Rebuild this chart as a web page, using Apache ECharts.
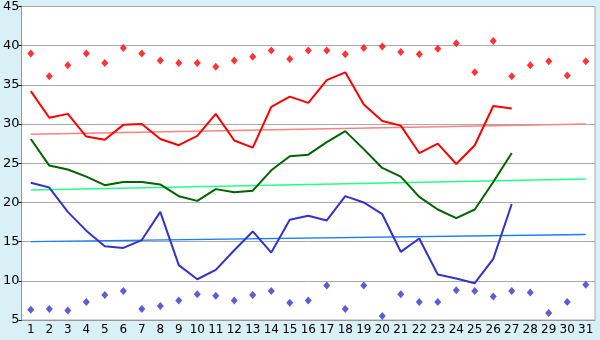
<!DOCTYPE html>
<html>
<head>
<meta charset="utf-8">
<script src="https://cdn.jsdelivr.net/npm/echarts@6/dist/echarts.min.js"></script>
<style>
  html, body { margin: 0; padding: 0; background: #d9f0f7; }
  #chart { width: 600px; height: 340px; }
</style>
</head>
<body>
<div id="chart"></div>
<script>
// days of the month
var days = []
for (var d = 1; d <= 31; d++) days.push(String(d))

// daily max (red diamonds)
var maxPoints = [39, 36.1, 37.5, 39, 37.8, 39.7, 39, 38.1, 37.8, 37.8,
  37.3, 38.1, 38.6, 39.4, 38.3, 39.4, 39.4, 38.9, 39.7, 39.9,
  39.2, 38.9, 39.6, 40.3, 36.6, 40.6, 36.1, 37.5, 38.0, 36.2, 38.0]
// daily min (blue diamonds)
var minPoints = [6.3, 6.4, 6.2, 7.3, 8.2, 8.7, 6.4, 6.8, 7.5, 8.3,
  8.1, 7.5, 8.2, 8.7, 7.2, 7.5, 9.4, 6.4, 9.4, 5.5,
  8.3, 7.3, 7.3, 8.8, 8.7, 8.0, 8.7, 8.5, 5.9, 7.3, 9.5]

var redLine = [34.2, 30.8, 31.3, 28.4, 28.0, 29.9, 30.0, 28.1, 27.3, 28.5,
  31.3, 27.9, 27.0, 32.2, 33.5, 32.7, 35.6, 36.6, 32.5, 30.4,
  29.8, 26.3, 27.5, 24.9, 27.3, 32.3, 32.0]
var greenLine = [28.1, 24.7, 24.2, 23.3, 22.2, 22.6, 22.6, 22.3, 20.8, 20.2,
  21.7, 21.3, 21.5, 24.1, 25.9, 26.1, 27.7, 29.1, 26.8, 24.4,
  23.3, 20.7, 19.1, 18.0, 19.1, 22.6, 26.3]
var blueLine = [22.5, 21.9, 18.8, 16.4, 14.4, 14.2, 15.2, 18.8, 12.0, 10.2,
  11.4, 13.9, 16.3, 13.6, 17.8, 18.3, 17.7, 20.8, 20.0, 18.5,
  13.7, 15.4, 10.8, 10.3, 9.7, 12.8, 19.8]

// trend lines, start and end values
var redTrend = [['1', 28.7], ['31', 30.0]]
var greenTrend = [['1', 21.6], ['31', 23.0]]
var blueTrend = [['1', 15.0], ['31', 15.9]]

var yTicks = { min: 5, max: 45, step: 5 }

var chart = echarts.init(document.getElementById('chart'))

function trend(data, color) {
  return {
    type: 'line', data: data, symbol: 'none', silent: true,
    lineStyle: { color: color, width: 1.5 }, z: 1
  }
}
function mainLine(data, color) {
  return {
    type: 'line', data: data, symbol: 'none',
    lineStyle: { color: color, width: 2 }, z: 3
  }
}
function dots(data, color) {
  return {
    type: 'scatter', data: data, symbol: 'diamond', symbolSize: [7, 8],
    itemStyle: { color: color }, z: 4
  }
}

chart.setOption({
  backgroundColor: '#d9f0f7',
  animation: false,
  textStyle: { fontFamily: 'DejaVu Sans' },
  grid: {
    left: 20, right: 5, top: 5, bottom: 20,
    show: true, backgroundColor: '#ffffff', borderColor: '#aaaaaa', borderWidth: 1
  },
  xAxis: {
    type: 'category',
    data: days,
    boundaryGap: true,
    axisLine: { lineStyle: { color: '#999999' } },
    axisTick: { alignWithLabel: true, length: 4, lineStyle: { color: '#000' } },
    axisLabel: { color: '#000', fontSize: 12, margin: 4, interval: 0 }
  },
  yAxis: {
    type: 'value',
    min: yTicks.min, max: yTicks.max, interval: yTicks.step,
    axisLine: { show: true, lineStyle: { color: '#999999' } },
    axisTick: { show: true, length: 3, lineStyle: { color: '#000' } },
    axisLabel: { color: '#000', fontSize: 13, margin: 2 },
    splitLine: { lineStyle: { color: '#aaaaaa' } }
  },
  series: [
    trend(redTrend, '#ff8080'),
    trend(greenTrend, '#22ff88'),
    trend(blueTrend, '#1a7fff'),
    mainLine(redLine, '#ff0000'),
    mainLine(greenLine, '#006400'),
    mainLine(blueLine, '#3333cc'),
    dots(maxPoints, '#ff0000'),
    dots(minPoints, '#3333cc')
  ]
})
</script>
</body>
</html>
